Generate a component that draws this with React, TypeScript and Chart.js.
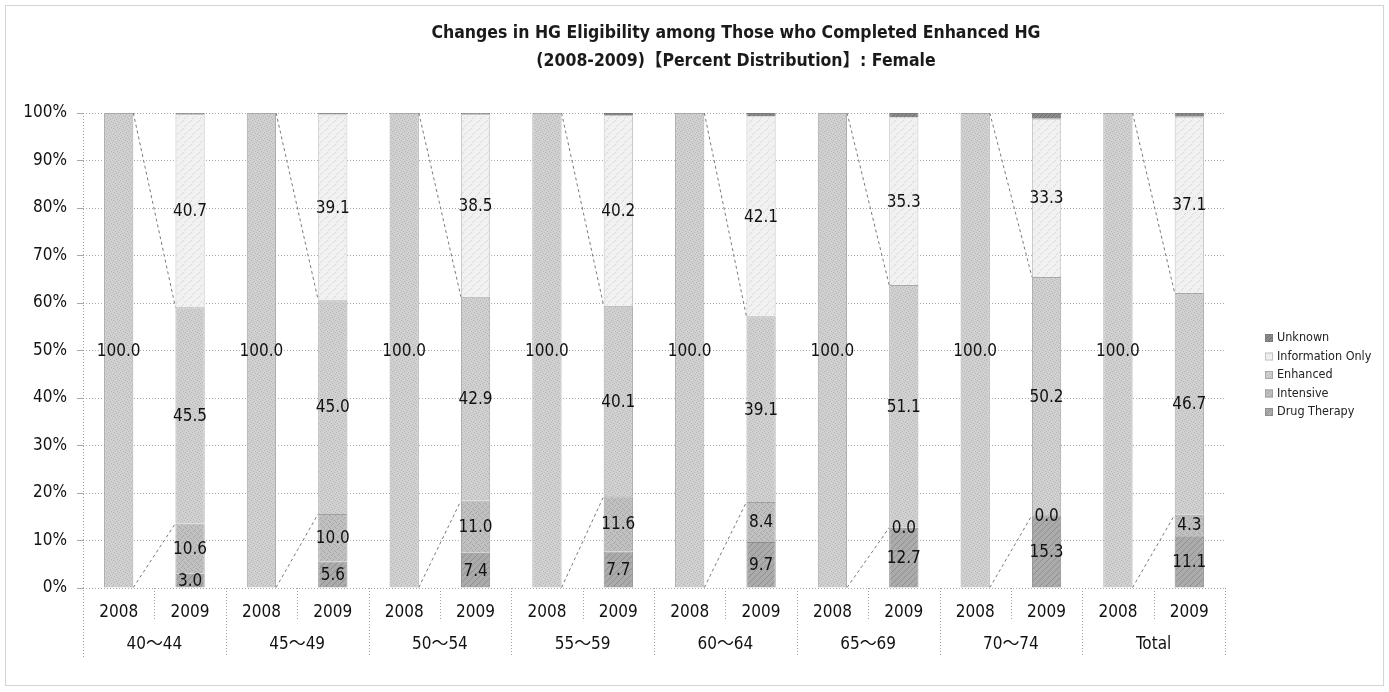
import React, { useEffect, useRef } from "react";
import { Chart, registerables } from "chart.js";

Chart.register(...registerables);

// Age groups and survey years (two-level category axis)
const ageGroups = ["40～44", "45～49", "50～54", "55～59", "60～64", "65～69", "70～74", "Total"];
const years = ["2008", "2009"];

// Percent distribution per bar (2008, 2009 alternating for each age group)
const drugTherapy = [null, 3.0, null, 5.6, null, 7.4, null, 7.7, null, 9.7, null, 12.7, null, 15.3, null, 11.1];
const intensive = [null, 10.6, null, 10.0, null, 11.0, null, 11.6, null, 8.4, null, 0.0, null, 0.0, null, 4.3];
const enhanced = [100.0, 45.5, 100.0, 45.0, 100.0, 42.9, 100.0, 40.1, 100.0, 39.1, 100.0, 51.1, 100.0, 50.2, 100.0, 46.7];
const informationOnly = [null, 40.7, null, 39.1, null, 38.5, null, 40.2, null, 42.1, null, 35.3, null, 33.3, null, 37.1];
const unknown = [null, 0.2, null, 0.3, null, 0.2, null, 0.4, null, 0.7, null, 0.9, null, 1.2, null, 0.8];

const seriesNames = ["Drug Therapy", "Intensive", "Enhanced", "Information Only", "Unknown"];

const titleLines = [
  "Changes in HG Eligibility among Those who Completed Enhanced HG",
  "(2008-2009)【Percent Distribution】: Female",
];

const FONT = "'DejaVu Sans Condensed', 'DejaVu Sans', 'Noto Sans CJK JP', sans-serif";

function texture(base: string, ink: string, marks: number[][], size: number): CanvasPattern | string {
  const c = document.createElement("canvas");
  c.width = size;
  c.height = size;
  const g = c.getContext("2d");
  if (!g) return base;
  g.fillStyle = base;
  g.fillRect(0, 0, size, size);
  g.fillStyle = ink;
  marks.forEach(([x, y]) => g.fillRect(x, y, 1, 1));
  return g.createPattern(c, "repeat") || base;
}

export default function App() {
  const ref = useRef<HTMLCanvasElement>(null);

  useEffect(() => {
    if (!ref.current) return;

    const fills = [
      texture("#ababab", "#8f8f8f", [[5, 0], [4, 1], [3, 2], [2, 3], [1, 4], [0, 5]], 6),
      texture("#c0c0c0", "#a6a6a6", [[0, 0], [3, 1], [1, 3], [4, 4], [2, 2], [5, 5]], 6),
      texture("#d0d0d0", "#b6b6b6", [[0, 0], [3, 1], [1, 3], [4, 4], [2, 5], [5, 2]], 6),
      texture("#f1f1f1", "#d8d8d8", [[7, 0], [6, 1], [5, 2], [1, 5], [0, 6], [3, 4]], 8),
      texture("#8c8c8c", "#727272", [[0, 0], [2, 2], [1, 3], [3, 1]], 4),
    ];
    const edges = ["#8e8e8e", "#a0a0a0", "#a8a8a8", "#c4c4c4", "#7a7a7a"];
    const values = [drugTherapy, intensive, enhanced, informationOnly, unknown];

    const labels = ageGroups.flatMap(() => years);

    // Frame, title, dashed series lines, segment labels, two-level axis and legend
    const decorations = {
      id: "decorations",
      beforeDraw(chart: any) {
        const { ctx, width, height } = chart;
        ctx.save();
        ctx.fillStyle = "#ffffff";
        ctx.fillRect(0, 0, width, height);
        ctx.strokeStyle = "#a8a8a8";
        ctx.lineWidth = 1;
        ctx.setLineDash([1, 1]);
        ctx.strokeRect(5.5, 5.5, width - 11, height - 12);
        ctx.setLineDash([]);

        ctx.fillStyle = "#1a1a1a";
        ctx.font = `bold 17.5px ${FONT}`;
        ctx.textAlign = "center";
        ctx.textBaseline = "middle";
        ctx.fillText(titleLines[0], 736, 33);
        ctx.fillText(titleLines[1], 736, 61);
        ctx.restore();
      },
      afterDatasetsDraw(chart: any) {
        const { ctx, chartArea } = chart;
        const x = chart.scales.x;
        const enhMeta = chart.getDatasetMeta(2);

        // series lines between the 2008 and 2009 Enhanced segments
        ctx.save();
        ctx.strokeStyle = "#7a7a7a";
        ctx.lineWidth = 1;
        ctx.setLineDash([3, 3]);
        for (let g = 0; g < ageGroups.length; g++) {
          const a = enhMeta.data[g * 2];
          const b = enhMeta.data[g * 2 + 1];
          if (!a || !b) continue;
          const ax = a.x + a.width / 2;
          const bx = b.x - b.width / 2;
          ctx.beginPath();
          ctx.moveTo(ax, a.y);
          ctx.lineTo(bx, b.y);
          ctx.moveTo(ax, a.base);
          ctx.lineTo(bx, b.base);
          ctx.stroke();
        }
        ctx.restore();

        // value labels in the middle of each segment
        ctx.save();
        ctx.fillStyle = "#111111";
        ctx.font = `17px ${FONT}`;
        ctx.textAlign = "center";
        ctx.textBaseline = "middle";
        for (let d = 0; d < 4; d++) {
          const meta = chart.getDatasetMeta(d);
          meta.data.forEach((el: any, i: number) => {
            const v = values[d][i];
            if (v === null || v === undefined) return;
            ctx.fillText(v.toFixed(1), el.x, (el.y + el.base) / 2 + 1);
          });
        }
        ctx.restore();

        // axis frame and category separators below the plot
        const bottom = chartArea.bottom;
        ctx.save();
        ctx.strokeStyle = "#a0a0a0";
        ctx.lineWidth = 1;
        ctx.setLineDash([1, 2]);
        ctx.beginPath();
        ctx.moveTo(Math.round(chartArea.left) + 0.5, chartArea.top);
        ctx.lineTo(Math.round(chartArea.left) + 0.5, bottom + 69);
        const step = (chartArea.right - chartArea.left) / labels.length;
        for (let i = 1; i <= labels.length; i++) {
          const px = Math.round(chartArea.left + step * i) + 0.5;
          const long = i % 2 === 0;
          ctx.moveTo(px, bottom);
          ctx.lineTo(px, bottom + (long ? 69 : 33));
        }
        ctx.stroke();
        ctx.restore();

        // age group labels
        ctx.save();
        ctx.fillStyle = "#111111";
        ctx.font = `17px ${FONT}`;
        ctx.textAlign = "center";
        ctx.textBaseline = "middle";
        ageGroups.forEach((name, g) => {
          const cx = (x.getPixelForValue(g * 2) + x.getPixelForValue(g * 2 + 1)) / 2;
          ctx.fillText(name, cx, bottom + 57);
        });
        ctx.restore();

        // legend, listed top-down in reverse stacking order
        ctx.save();
        ctx.font = `12.5px ${FONT}`;
        ctx.textBaseline = "middle";
        ctx.textAlign = "left";
        const names = seriesNames.slice().reverse();
        names.forEach((name, k) => {
          const d = seriesNames.length - 1 - k;
          const y = 338 + k * 18.5;
          ctx.fillStyle = fills[d] as any;
          ctx.fillRect(1265, y - 4, 8, 8);
          ctx.strokeStyle = edges[d];
          ctx.strokeRect(1265.5, y - 3.5, 7, 7);
          ctx.fillStyle = "#222222";
          ctx.fillText(name, 1277, y);
        });
        ctx.restore();
      },
    };

    const chart = new Chart(ref.current, {
      type: "bar",
      data: {
        labels,
        datasets: seriesNames.map((name, d) => ({
          label: name,
          data: values[d] as any,
          backgroundColor: fills[d] as any,
          borderColor: edges[d],
          borderWidth: 1,
          categoryPercentage: 1,
          barPercentage: 0.41,
        })),
      },
      options: {
        animation: false,
        responsive: true,
        maintainAspectRatio: false,
        layout: { padding: { left: 0, right: 164, top: 113, bottom: 0 } },
        plugins: {
          legend: { display: false },
          tooltip: { enabled: false },
          title: { display: false },
        },
        scales: {
          x: {
            stacked: true,
            grid: { display: false },
            border: { display: false },
            ticks: { color: "#111111", font: { family: FONT, size: 17 }, padding: 6, maxRotation: 0, autoSkip: false },
            afterFit: (s: any) => {
              s.height = 104;
            },
          },
          y: {
            stacked: true,
            min: 0,
            max: 100,
            grid: { color: "#a8a8a8", lineWidth: 1, tickLength: 6 },
            border: { display: false, dash: [1, 2] },
            ticks: {
              stepSize: 10,
              color: "#111111",
              font: { family: FONT, size: 17 },
              padding: 10,
              callback: (v: any) => `${v}%`,
            },
            afterFit: (s: any) => {
              s.width = 83;
            },
          },
        },
      },
      plugins: [decorations],
    });

    return () => chart.destroy();
  }, []);

  return (
    <div style={{ position: "fixed", left: 0, top: 0, width: 1389, height: 692, background: "#ffffff" }}>
      <canvas ref={ref} />
    </div>
  );
}
